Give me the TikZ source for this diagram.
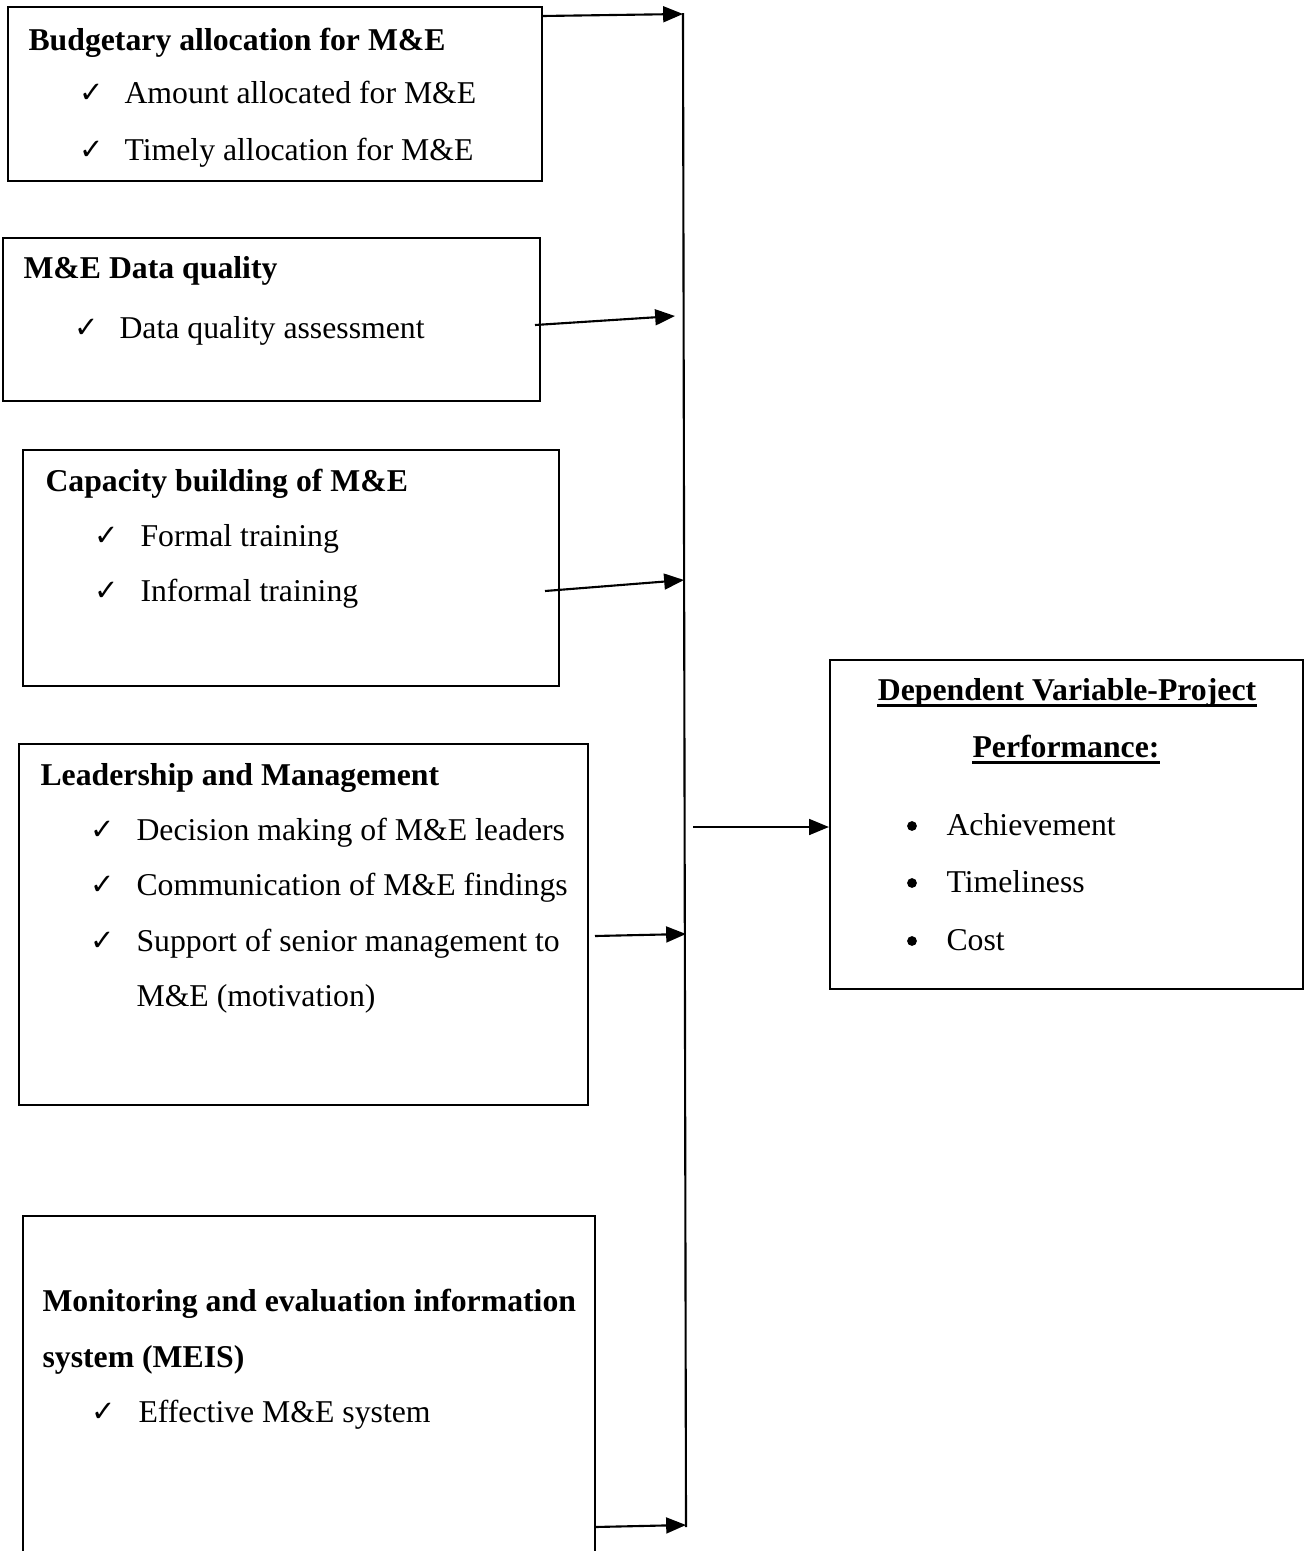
\documentclass[tikz,border=0pt]{standalone}
\usepackage{fontspec}
\setmainfont{Liberation Serif}
\newfontfamily\symfont{DejaVu Sans}
\usetikzlibrary{arrows.meta,fit}
\tikzset{
  box/.style={draw,line width=0.8pt,inner sep=0pt},
  txt/.style={anchor=base west,inner sep=0pt,font=\fontsize{12}{14}\selectfont},
  ttl/.style={txt,font=\fontsize{12}{14}\selectfont\bfseries},
  ctr/.style={anchor=base,inner sep=0pt,font=\fontsize{12}{14}\selectfont\bfseries},
  chk/.style={anchor=base west,inner sep=0pt,font=\symfont\fontsize{11}{13}\selectfont},
  bul/.style={circle,fill,inner sep=0pt,minimum size=3.7pt},
  arr/.style={line width=0.8pt,-{Triangle[length=7.5pt,width=6pt]}},
  bus/.style={line width=0.8pt},
  ul/.style={line width=1.1pt}
}
\begin{document}
\begin{tikzpicture}[x=0.378pt,y=-0.378pt]
\useasboundingbox (0,0) rectangle (1304,1551);
% corner coordinates
\coordinate (b1a) at (8,7);    \coordinate (b1b) at (542,181);
\coordinate (b2a) at (3,238);  \coordinate (b2b) at (540,401);
\coordinate (b3a) at (23,450); \coordinate (b3b) at (559,686);
\coordinate (b4a) at (19,744); \coordinate (b4b) at (588,1105);
\coordinate (b6a) at (830,660); \coordinate (b6b) at (1303,989);
\node[box,fit=(b1a)(b1b)] (box1) {};
\node[box,fit=(b2a)(b2b)] (box2) {};
\node[box,fit=(b3a)(b3b)] (box3) {};
\node[box,fit=(b4a)(b4b)] (box4) {};
\node[box,fit=(b6a)(b6b)] (dep) {};
% box 5 (open at the bottom)
\coordinate (b5bl) at (23,1551);
\coordinate (b5tl) at (23,1216);
\coordinate (b5tr) at (595,1216);
\coordinate (b5br) at (595,1551);
\draw[line width=0.8pt] (b5bl) -- (b5tl) -- (b5tr) -- (b5br);

% box 1 text
\node[ttl] (t1) at (28,50) {Budgetary allocation for M\&E};
\node[chk] (c11) at (79,102) {✓};
\node[txt] (i11) at (124,103) {Amount allocated for M\&E};
\node[chk] (c12) at (79,159) {✓};
\node[txt] (i12) at (124,160) {Timely allocation for M\&E};
% box 2 text
\node[ttl] (t2) at (23,278) {M\&E Data quality};
\node[chk] (c21) at (74,337) {✓};
\node[txt] (i21) at (119,338) {Data quality assessment};
% box 3 text
\node[ttl] (t3) at (45,491) {Capacity building of M\&E};
\node[chk] (c31) at (94,545) {✓};
\node[txt] (i31) at (140,546) {Formal training};
\node[chk] (c32) at (94,600) {✓};
\node[txt] (i32) at (140,601) {Informal training};
% box 4 text
\node[ttl] (t4) at (40,785) {Leadership and Management};
\node[chk] (c41) at (90,839) {✓};
\node[txt] (i41) at (136,840) {Decision making of M\&E leaders};
\node[chk] (c42) at (90,894) {✓};
\node[txt] (i42) at (136,895) {Communication of M\&E findings};
\node[chk] (c43) at (90,950) {✓};
\node[txt] (i43) at (136,951) {Support of senior management to};
\node[txt] (i44) at (136,1006) {M\&E (motivation)};
% box 5 text
\node[ttl] (t5a) at (42,1311) {Monitoring and evaluation information};
\node[ttl] (t5b) at (42,1367) {system (MEIS)};
\node[chk] (c51) at (91,1421) {✓};
\node[txt] (i51) at (138,1422) {Effective M\&E system};
% dependent box text
\node[ctr] (d1) at (1067,700) {Dependent Variable-Project};
\node[ctr] (d2) at (1066,757) {Performance:};
\draw[ul] ([yshift=-2.2pt]d1.base west) -- ([yshift=-2.2pt]d1.base east);
\draw[ul] ([yshift=-2.2pt]d2.base west) -- ([yshift=-2.2pt]d2.base east);
\node[bul] (bu1) at (912,826) {};
\node[txt] (e1) at (946,835) {Achievement};
\node[bul] (bu2) at (912,883) {};
\node[txt] (e2) at (946,892) {Timeliness};
\node[bul] (bu3) at (912,941) {};
\node[txt] (e3) at (946,950) {Cost};

% bus line
\coordinate (bustop) at (683,13);
\coordinate (busbot) at (686,1527);
\draw[bus] (bustop) -- (busbot);
% arrows into bus
\coordinate (a1s) at (542,16);   \coordinate (a1e) at (683,14);
\coordinate (a2s) at (535,325);  \coordinate (a2e) at (675,316);
\coordinate (a3s) at (545,591);  \coordinate (a3e) at (684,580);
\coordinate (a4s) at (595,936);  \coordinate (a4e) at (686,934);
\coordinate (a5s) at (595,1527); \coordinate (a5e) at (686,1525);
\coordinate (a6s) at (693,827);
\draw[arr] (a1s) -- (a1e);
\draw[arr] (a2s) -- (a2e);
\draw[arr] (a3s) -- (a3e);
\draw[arr] (a4s) -- (a4e);
\draw[arr] (a5s) -- (a5e);
\draw[arr] (a6s) -- (dep.west |- a6s);
\end{tikzpicture}
\end{document}
